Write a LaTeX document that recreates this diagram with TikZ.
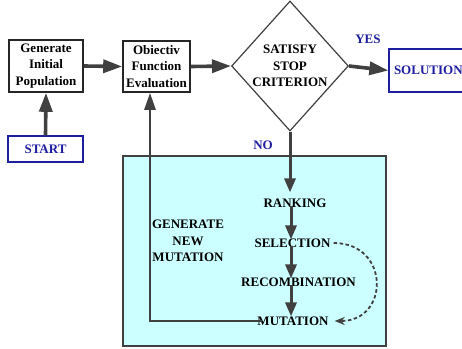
\documentclass[tikz,border=0pt]{standalone}
\usepackage{fontspec}
\setmainfont{Liberation Serif}
\usetikzlibrary{arrows.meta,shapes.geometric,calc}
\definecolor{arrowgray}{HTML}{404040}
\definecolor{navy}{RGB}{30,30,160}
\definecolor{lightcyan}{HTML}{CCFFFF}
\begin{document}
\begin{tikzpicture}[x=1pt,y=-1pt,
  txt/.style={font=\bfseries\fontsize{13}{16.5}\selectfont, align=center},
  blackbox/.style={txt, draw=black!85, line width=1.6pt, inner sep=0pt},
  bluebox/.style={txt, draw=navy, text=navy, line width=1.3pt, inner sep=0pt},
  label/.style={txt, inner sep=0pt},
  bluelabel/.style={txt, text=navy, inner sep=0pt},
  mainarrow/.style={draw=arrowgray, line width=3.6pt, -{Triangle[length=19pt,width=13pt]}, arrowgray},
  innerarrow/.style={draw=arrowgray, line width=3pt, -{Triangle[length=14pt,width=11pt]}, arrowgray},
  fbarrow/.style={draw=arrowgray, line width=2.6pt, -{Triangle[length=17pt,width=11pt]}, arrowgray},
  dasharrow/.style={draw=arrowgray, line width=1.8pt, dash pattern=on 3.5pt off 2.5pt, -{Stealth[length=10pt,width=8pt]}, arrowgray}
]
\useasboundingbox (0,0) rectangle (462,348);

% cyan region
\path[fill=lightcyan, draw=arrowgray, line width=1.5pt] (123,156) rectangle (386,346);

% top row
\node[blackbox, minimum width=74pt, minimum height=52pt] (gen) at (46,66) {Generate\\Initial\\Population};
\node[bluebox, minimum width=75pt, minimum height=26pt] (start) at (45.5,149) {START};
\node[blackbox, minimum width=67pt, minimum height=51pt] (obj) at (156.5,66.5) {Obiectiv\\Function\\Evaluation};
\node[txt, diamond, draw=arrowgray, line width=1.2pt, minimum width=116pt, minimum height=130pt, inner sep=0pt, fill=white] (dia) at (290,66) {SATISFY\\STOP\\CRITERION};
\node[bluebox, minimum height=43pt, minimum width=82pt, text width=76pt, align=left] (sol) at (430,70.5) {\hspace*{2pt}SOLUTION};

\node[bluelabel] (yes) at (368,39) {YES};
\node[bluelabel] (no) at (263,145) {NO};

% inner labels
\node[label] (rank) at (295,203) {RANKING};
\node[label] (sel) at (292.5,243) {SELECTION};
\node[label] (rec) at (298.5,282) {RECOMBINATION};
\node[label] (mut) at (293,321) {MUTATION};
\node[label] (gnm) at (188,241) {GENERATE\\NEW\\MUTATION};

\coordinate (ax) at (291,0);

% connectors
\draw[mainarrow] (start.north) -- (gen.south);
\draw[mainarrow] (gen.east) -- (obj.west);
\draw[mainarrow] (obj.east) -- (dia.west);
\draw[mainarrow] (dia.east) -- (sol.west);
\draw[innerarrow, shorten >=6pt] (dia.south) -- (dia.south |- rank.north);
\draw[innerarrow, shorten <=-2pt, shorten >=-1pt] (ax |- rank.south) -- (ax |- sel.north);
\draw[innerarrow, shorten <=-2pt, shorten >=-1pt] (ax |- sel.south) -- (ax |- rec.north);
\draw[innerarrow, shorten <=-2pt, shorten >=0pt] (ax |- rec.south) -- (ax |- mut.north);
\draw[fbarrow] ([xshift=5pt]mut.west) -| ([xshift=-6.5pt]obj.south);
\draw[dasharrow] ([xshift=3pt]sel.east) .. controls (390,243) and (390,321) .. ([xshift=6pt]mut.east);
\end{tikzpicture}
\end{document}
